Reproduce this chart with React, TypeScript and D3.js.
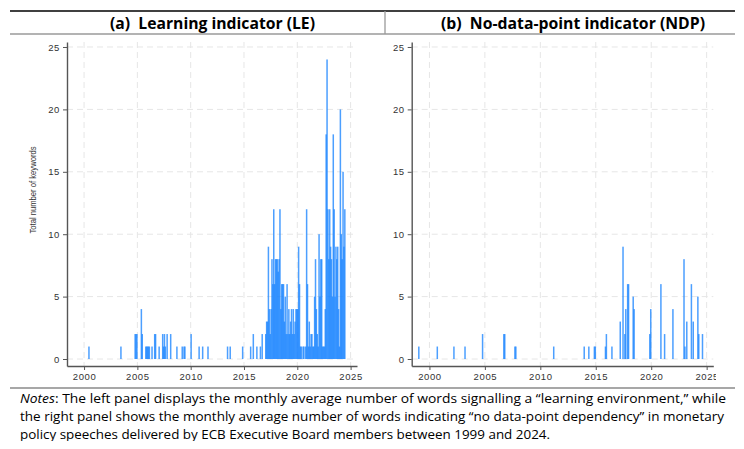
import { useEffect, useRef } from 'react';
import * as d3 from 'd3';

// tick values
const xTicks = [2000, 2005, 2010, 2015, 2020, 2025];
const yTicks = [0, 5, 10, 15, 20, 25];

// Learning indicator (LE), sparse early months
const leEarly: [string, number][] = [
    ['2000-06', 1], ['2003-06', 1], ['2004-10', 2], ['2004-11', 2], ['2004-12', 2],
    ['2005-05', 4], ['2005-06', 2], ['2005-10', 1], ['2005-11', 1], ['2005-12', 1],
    ['2006-01', 1], ['2006-02', 1], ['2006-05', 1], ['2006-08', 2], ['2006-09', 2],
    ['2007-01', 1], ['2007-05', 2], ['2007-06', 1], ['2007-07', 2], ['2007-08', 1],
    ['2007-10', 2], ['2008-02', 2], ['2008-09', 1], ['2009-03', 1], ['2009-05', 1],
    ['2009-06', 1], ['2010-01', 2], ['2010-10', 1], ['2011-02', 1], ['2011-08', 1],
    ['2013-06', 1], ['2013-09', 1], ['2014-11', 1], ['2015-08', 1], ['2015-11', 2],
    ['2016-03', 1], ['2016-07', 1], ['2016-09', 2],
];

// LE, monthly values Jan..Dec for the dense years
const le2017 = [2, 3, 3, 9, 4, 2, 4, 8, 6, 12, 6, 8];
const le2018 = [8, 8, 7, 8, 12, 4, 6, 6, 6, 3, 5, 2];
const le2019 = [6, 2, 4, 2, 3, 4, 2, 4, 2, 3, 4, 4];
const le2020 = [4, 9, 6, 1, 1, 0, 1, 1, 0, 1, 12, 6];
const le2021 = [1, 3, 1, 2, 2, 1, 1, 5, 8, 4, 2, 1];
const le2022 = [10, 5, 8, 8, 1, 1, 1, 4, 18, 24, 12, 8];
const le2023 = [12, 9, 8, 5, 18, 12, 5, 9, 8, 9, 4, 1];
const le2024 = [20, 10, 8, 15, 9, 12];

// No-data-point indicator (NDP)
const ndpSeries: [string, number][] = [
    ['1999-01', 1], ['2000-09', 1], ['2002-03', 1], ['2003-03', 1], ['2004-10', 2],
    ['2006-09', 2], ['2006-10', 2], ['2007-09', 1], ['2007-10', 1], ['2011-03', 1],
    ['2013-12', 1], ['2014-05', 1], ['2014-11', 1], ['2014-12', 1], ['2015-11', 1],
    ['2015-12', 2], ['2016-06', 1], ['2017-03', 3], ['2017-06', 9], ['2017-08', 2],
    ['2017-09', 4], ['2017-11', 6], ['2017-12', 6], ['2018-05', 5], ['2018-06', 4],
    ['2019-11', 2], ['2019-12', 4], ['2020-11', 6], ['2021-03', 2], ['2021-12', 4],
    ['2022-12', 8], ['2023-01', 1], ['2023-03', 3], ['2023-08', 6], ['2023-10', 3],
    ['2024-03', 5], ['2024-04', 2], ['2024-08', 2],
];

const titles = ['(a)  Learning indicator (LE)', '(b)  No-data-point indicator (NDP)'];
const yLabel = 'Total number of keywords';
const notes = [
    'The left panel displays the monthly average number of words signalling a \u201clearning environment,\u201d while',
    'the right panel shows the monthly average number of words indicating \u201cno data-point dependency\u201d in monetary',
    'policy speeches delivered by ECB Executive Board members between 1999 and 2024.',
];

const denseYears: [number, number[]][] = [
    [2017, le2017], [2018, le2018], [2019, le2019], [2020, le2020],
    [2021, le2021], [2022, le2022], [2023, le2023], [2024, le2024],
];

const leSeries: [string, number][] = [
    ...leEarly,
    ...denseYears.flatMap(([yr, vals]) =>
        vals.map((v, i) => [`${yr}-${String(i + 1).padStart(2, '0')}`, v] as [string, number])
    ),
].filter(d => d[1] > 0);

const toYear = (s: string) => {
    const [y, m] = s.split('-').map(Number);
    return y + (m - 1) / 12 + 1 / 24;
};

const W = 744;
const H = 449;
const tickFont = "'Liberation Sans', Arial, sans-serif";
const textFont = "'Open Sans', 'Noto Sans', sans-serif";
const barColor = '#1a84ff';

const App = () => {
    const svgRef = useRef<SVGSVGElement>(null);

    useEffect(() => {
        d3.select(svgRef.current).selectAll('*').remove();
        const svg = d3.select(svgRef.current).attr('width', W).attr('height', H);

        svg.append('rect').attr('width', W).attr('height', H).attr('fill', '#fff');

        const defs = svg.append('defs');
        defs.append('clipPath').attr('id', 'clipRight')
            .append('rect').attr('x', 386).attr('y', 0).attr('width', 330).attr('height', H);
        defs.append('clipPath').attr('id', 'clipNotes')
            .append('rect').attr('x', 0).attr('y', 389).attr('width', W).attr('height', 52);

        // header lines
        svg.append('line').attr('x1', 10).attr('x2', 735).attr('y1', 11).attr('y2', 11)
            .attr('stroke', '#000').attr('stroke-width', 1.3);
        svg.append('line').attr('x1', 10).attr('x2', 735).attr('y1', 34).attr('y2', 34)
            .attr('stroke', '#9a9a9a').attr('stroke-width', 1.6);
        svg.append('line').attr('x1', 385).attr('x2', 385).attr('y1', 11).attr('y2', 34)
            .attr('stroke', '#9a9a9a').attr('stroke-width', 1.3);

        const panels = [
            { left: 67, right: 357, series: leSeries, title: titles[0], tx: 110, tw: 205, clip: null },
            { left: 411.7, right: 713.3, series: ndpSeries, title: titles[1], tx: 441, tw: 264, clip: 'url(#clipRight)' },
        ];

        panels.forEach((p, pi) => {
            svg.append('text')
                .attr('x', p.tx)
                .attr('y', 29)
                .attr('textLength', p.tw)
                .attr('lengthAdjust', 'spacingAndGlyphs')
                .style('white-space', 'pre')
                .style('font-family', textFont)
                .style('font-weight', 'bold')
                .style('font-size', '16.5px')
                .text(p.title);

            const g = svg.append('g');
            if (p.clip) g.attr('clip-path', p.clip);

            const x = d3.scaleLinear().domain([1998.4, 2025.6]).range([p.left, p.right]);
            const y = d3.scaleLinear().domain([-0.56, 25.4]).range([366, 42]);

            // dashed grid
            g.append('g').selectAll('line').data(xTicks).join('line')
                .attr('x1', d => x(d)).attr('x2', d => x(d))
                .attr('y1', 42).attr('y2', 366)
                .attr('stroke', '#e6e6e6').attr('stroke-dasharray', '6,4');
            g.append('g').selectAll('line').data(yTicks).join('line')
                .attr('x1', p.left).attr('x2', p.right)
                .attr('y1', d => y(d)).attr('y2', d => y(d))
                .attr('stroke', '#e6e6e6').attr('stroke-dasharray', '6,4');

            // bars
            const bw = 1.5;
            g.append('g').selectAll('rect').data(p.series).join('rect')
                .attr('x', d => x(toYear(d[0])) - bw / 2)
                .attr('width', bw)
                .attr('y', d => y(d[1]))
                .attr('height', d => y(0) - y(d[1]))
                .attr('fill', barColor)
                .attr('fill-opacity', 0.78);

            // axes
            const yAxis = g.append('g')
                .attr('transform', `translate(${p.left},0)`)
                .call(d3.axisLeft(y).tickValues(yTicks).tickSize(4).tickSizeOuter(0).tickPadding(3));
            const xAxis = g.append('g')
                .attr('transform', 'translate(0,366)')
                .call(d3.axisBottom(x).tickValues(xTicks).tickFormat(d3.format('d')).tickSize(4).tickSizeOuter(0).tickPadding(3));

            [yAxis, xAxis].forEach(a => {
                a.select('.domain').attr('stroke', '#555').attr('stroke-width', 1.4);
                a.selectAll('.tick line').attr('stroke', '#555');
                a.selectAll('.tick text')
                    .attr('fill', '#333')
                    .style('font-family', tickFont)
                    .style('font-size', '9.5px')
                    .style('letter-spacing', '0.6px');
            });

            if (pi === 0) {
                svg.append('text')
                    .attr('transform', 'translate(36,190) rotate(-90)')
                    .attr('text-anchor', 'middle')
                    .attr('textLength', 87)
                    .attr('lengthAdjust', 'spacingAndGlyphs')
                    .attr('fill', '#333')
                    .style('font-family', tickFont)
                    .style('font-size', '8.5px')
                    .text(yLabel);
            }
        });

        // notes
        svg.append('line').attr('x1', 10).attr('x2', 735).attr('y1', 388).attr('y2', 388)
            .attr('stroke', '#8a8a8a').attr('stroke-width', 1.6);

        const ng = svg.append('g').attr('clip-path', 'url(#clipNotes)');
        const widths = [706, 704, 530];
        notes.forEach((line, i) => {
            const t = ng.append('text')
                .attr('x', 20)
                .attr('y', 403 + i * 18)
                .attr('textLength', widths[i])
                .attr('lengthAdjust', 'spacingAndGlyphs')
                .style('font-family', textFont)
                .style('font-size', '13.5px');
            if (i === 0) {
                t.append('tspan').style('font-style', 'italic').text('Notes');
                t.append('tspan').text(': ' + line);
            } else {
                t.text(line);
            }
        });
    }, []);

    return (
        <div style={{ position: 'absolute', left: 0, top: 0 }}>
            <svg ref={svgRef}></svg>
        </div>
    );
};

export default App;
